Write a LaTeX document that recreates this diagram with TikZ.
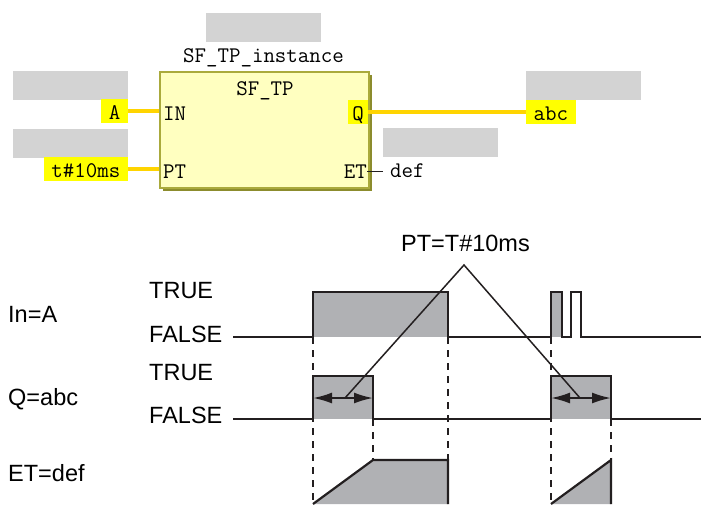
\documentclass[tikz,border=0pt]{standalone}
\usepackage{fontspec}
\setmainfont{Liberation Sans}
\usepackage{tikz}
\usetikzlibrary{arrows.meta,shadows}
\definecolor{fbfill}{RGB}{255,255,192}
\definecolor{fbline}{RGB}{170,170,60}
\definecolor{fbshade}{RGB}{140,140,45}
\definecolor{hlyellow}{RGB}{255,255,0}
\definecolor{wireyellow}{RGB}{255,212,0}
\definecolor{boxgray}{RGB}{211,211,211}
\definecolor{sigfill}{RGB}{176,177,180}
\definecolor{sigline}{RGB}{35,31,32}
\tikzset{
  fbtext/.style={font=\ttfamily\fontsize{22.3}{24}\selectfont, inner sep=0pt},
  fbbox/.style={draw=fbline, line width=2pt, fill=fbfill, inner sep=0pt,
    drop shadow={shadow xshift=3pt, shadow yshift=-3pt, fill=fbshade, opacity=1}},
  varbox/.style={fill=boxgray, minimum width=115pt, minimum height=29pt, inner sep=0pt},
  hlbox/.style={fbtext, fill=hlyellow, minimum height=24pt, inner xsep=7.5pt, inner ysep=0pt,
    text height=17pt, text depth=0pt},
  wire/.style={wireyellow, line width=4pt},
  sigtext/.style={font=\fontsize{23.5}{26}\selectfont, inner sep=0pt},
  sig/.style={sigline, line width=2.2pt},
  sigarea/.style={fill=sigfill},
  guide/.style={sigline, line width=1.6pt, dash pattern=on 7pt off 6pt},
  leader/.style={sigline, line width=1.5pt},
  ptspan/.style={sigline, line width=2pt, {Latex[length=19pt,width=11pt]}-{Latex[length=19pt,width=11pt]}},
}
\begin{document}
\begin{tikzpicture}[x=1pt,y=-1pt]
\useasboundingbox (0,0) rectangle (701,504);
\node[varbox, anchor=north west] (instvar) at (206,13) {};
\node[fbtext, anchor=base] (instname) at (263.5,62) {SF\_TP\_instance};
\node[fbbox, anchor=north west, minimum width=209pt, minimum height=116pt] (fb) at (159,71) {};
\node[fbtext, anchor=base] (fbname) at (265,95) {SF\_TP};
\node[fbtext, anchor=base west] (pinin) at (163,120) {IN};
\node[fbtext, anchor=base west] (pinpt) at (163,178) {PT};
\node[hlbox, inner xsep=4pt, anchor=north east] (pinq) at (368,100) {Q};
\node[fbtext, anchor=base east] (pinet) at (367,178) {ET};
\node[varbox, anchor=north west] (avar) at (13,71) {};
\node[hlbox, anchor=north east] (a) at (128,99) {A};
\node[varbox, anchor=north west] (ptvar) at (13,129) {};
\node[hlbox, anchor=north east] (t10) at (128,157) {t\#10ms};
\node[varbox, anchor=north west] (abcvar) at (526,71) {};
\node[hlbox, anchor=north west] (abc) at (526,100) {abc};
\node[varbox, anchor=north west] (defvar) at (383,128) {};
\node[fbtext, anchor=base west] (def) at (390,177) {def};
\draw[wire] (a.east) -- (a.east -| fb.west);
\draw[wire] (t10.east) -- (t10.east -| fb.west);
\draw[wire] (pinq.east) -- (abc.west);
\draw[sigline, line width=1.3pt, shorten >=7pt] (pinet.east) -- (pinet.east -| def.west);

\node[sigtext, anchor=base west] (inlbl) at (8,322) {In=A};
\node[sigtext, anchor=base west] (qlbl) at (8,405.5) {Q=abc};
\node[sigtext, anchor=base west] (etlbl) at (8,481.5) {ET=def};
\node[sigtext, anchor=base west] (intrue) at (149,298) {TRUE};
\node[sigtext, anchor=base west] (infalse) at (149,342) {FALSE};
\node[sigtext, anchor=base west] (qtrue) at (149,380) {TRUE};
\node[sigtext, anchor=base west] (qfalse) at (149,423) {FALSE};
\node[sigtext, anchor=base] (ptlbl) at (465.5,251) {PT=T\#10ms};

\draw[guide] (313,337) -- (313,504);
\draw[guide] (448,337) -- (448,460);
\draw[guide] (373,419) -- (373,460);
\draw[guide] (551,337) -- (551,504);
\draw[guide] (611,419) -- (611,460);

\fill[sigarea] (313,292) rectangle (448,337);
\fill[sigarea] (551,292) rectangle (562,337);
\fill[sigarea] (313,376) rectangle (373,419);
\fill[sigarea] (551,376) rectangle (611,419);
\fill[sigarea] (313,504) -- (373,460) -- (448,460) -- (448,504) -- cycle;
\fill[sigarea] (551,504) -- (611,460) -- (611,504) -- cycle;

\draw[sig] (233,337) -| (313,292) -| (448,337) -| (551,292) -| (562,337) -| (571,292) -| (581,337) -- (701,337);
\draw[sig] (233,419) -| (313,376) -| (373,419) -| (551,376) -| (611,419) -- (701,419);
\draw[sig] (313,504) -- (373,460) -- (448,460) -- (448,504);
\draw[sig] (551,504) -- (611,460) -- (611,504);

\draw[ptspan] (313,398) -- (373,398);
\draw[ptspan] (551,398) -- (611,398);
\coordinate (apex) at (464,265);
\coordinate (pttip1) at (345,398);
\coordinate (pttip2) at (580,398);
\draw[leader] (pttip1) -- (apex) -- (pttip2);
\end{tikzpicture}
\end{document}
